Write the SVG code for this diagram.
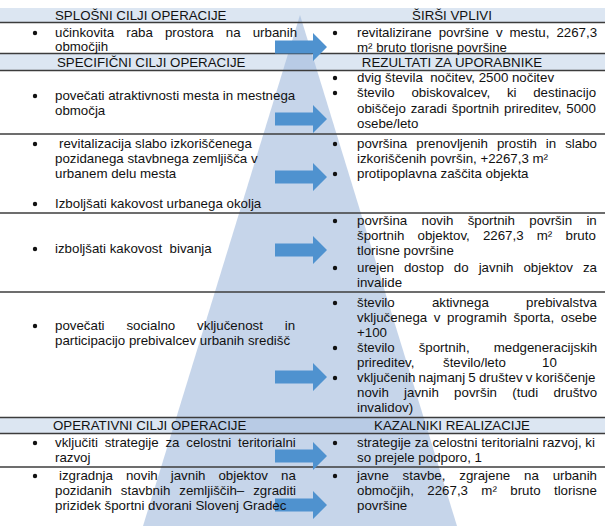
<svg xmlns="http://www.w3.org/2000/svg" width="605" height="526" viewBox="0 0 605 526">
<defs>
<style>
text{font-family:"Liberation Sans",Arial,sans-serif;font-size:13.3px;fill:#111;}
.band{fill:#dce6f2;}
.rule{stroke:#3c3c3c;stroke-width:1.5;}
.arrow{fill:#4f92cf;}
.dot{fill:#111;}
</style>
<path id="arr" class="arrow" d="M0,-6.5 H38 V-14 L52,0 L38,14 V6.5 H0 Z"/>
</defs>
<rect width="605" height="526" fill="#fff"/>
<g id="bands">
<rect class="band" x="0" y="8" width="605" height="14"/>
<rect class="band" x="0" y="54" width="605" height="16"/>
<rect class="band" x="0" y="418" width="605" height="15"/>
</g>
<g id="pyramid">
<polygon points="300,15 143,526 457,526" fill="#a0b9dc" fill-opacity="0.6"/>
</g>
<g id="rules">
<line class="rule" x1="0" y1="22.5" x2="605" y2="22.5"/>
<line class="rule" x1="0" y1="53.5" x2="605" y2="53.5"/>
<line class="rule" x1="0" y1="70.5" x2="605" y2="70.5"/>
<line class="rule" x1="0" y1="134" x2="605" y2="134"/>
<line class="rule" x1="0" y1="213" x2="605" y2="213"/>
<line class="rule" x1="0" y1="292" x2="605" y2="292"/>
<line class="rule" x1="0" y1="417.5" x2="605" y2="417.5"/>
<line class="rule" x1="0" y1="433.5" x2="605" y2="433.5"/>
<line class="rule" x1="0" y1="467" x2="605" y2="467"/>
</g>
<g id="connectors">
<use href="#arr" x="275" y="47"/>
<use href="#arr" x="275" y="119"/>
<use href="#arr" x="275" y="177"/>
<use href="#arr" x="275" y="250"/>
<use href="#arr" x="275" y="377"/>
<use href="#arr" x="275" y="456"/>
<use href="#arr" x="275" y="505"/>
</g>
<g id="headers">
<text x="55" y="20">SPLOŠNI CILJI OPERACIJE</text>
<text x="452" y="20" text-anchor="middle">ŠIRŠI VPLIVI</text>
<text x="57" y="67">SPECIFIČNI CILJI OPERACIJE</text>
<text x="452" y="67" text-anchor="middle">REZULTATI ZA UPORABNIKE</text>
<text x="53" y="430">OPERATIVNI CILJI OPERACIJE</text>
<text x="452" y="430" text-anchor="middle">KAZALNIKI REALIZACIJE</text>
</g>
<g id="splosni-cilji">
<circle class="dot" cx="35" cy="33" r="2.2"/>
<text x="55" y="37" word-spacing="8.4">učinkovita raba prostora na urbanih</text>
<text x="55" y="51">območjih</text>
</g>
<g id="sirsi-vplivi">
<circle class="dot" cx="335" cy="33" r="2.2"/>
<text x="357" y="37" word-spacing="3.3">revitalizirane površine v mestu, 2267,3</text>
<text x="357" y="52">m² bruto tlorisne površine</text>
</g>
<g id="specificni-1">
<circle class="dot" cx="35" cy="96" r="2.2"/>
<text x="55" y="100">povečati atraktivnosti mesta in mestnega</text>
<text x="55" y="115">območja</text>
</g>
<g id="rezultati-1">
<circle class="dot" cx="335" cy="78" r="2.2"/>
<text x="357" y="82" xml:space="preserve">dvig števila  nočitev, 2500 nočitev</text>
<circle class="dot" cx="335" cy="93" r="2.2"/>
<text x="357" y="97" word-spacing="13">število obiskovalcev, ki destinacijo</text>
<text x="357" y="113" word-spacing="1.2">obiščejo zaradi športnih prireditev, 5000</text>
<text x="357" y="128">osebe/leto</text>
</g>
<g id="specificni-2">
<circle class="dot" cx="35" cy="144" r="2.2"/>
<text x="59" y="148">revitalizacija slabo izkoriščenega</text>
<text x="55" y="163">pozidanega stavbnega zemljišča v</text>
<text x="55" y="178">urbanem delu mesta</text>
<circle class="dot" cx="35" cy="204" r="2.2"/>
<text x="55" y="208">Izboljšati kakovost urbanega okolja</text>
</g>
<g id="rezultati-2">
<circle class="dot" cx="335" cy="144" r="2.2"/>
<text x="357" y="148" word-spacing="5.3">površina prenovljenih prostih in slabo</text>
<text x="357" y="163">izkoriščenih površin, +2267,3 m²</text>
<circle class="dot" cx="335" cy="174" r="2.2"/>
<text x="357" y="178">protipoplavna zaščita objekta</text>
</g>
<g id="specificni-3">
<circle class="dot" cx="35" cy="249" r="2.2"/>
<text x="55" y="253" xml:space="preserve">izboljšati kakovost  bivanja</text>
</g>
<g id="rezultati-3">
<circle class="dot" cx="335" cy="221" r="2.2"/>
<text x="357" y="225" word-spacing="10.6">površina novih športnih površin in</text>
<text x="357" y="240" word-spacing="9.5">športnih objektov, 2267,3 m² bruto</text>
<text x="357" y="255">tlorisne površine</text>
<circle class="dot" cx="335" cy="268" r="2.2"/>
<text x="357" y="272" word-spacing="6.3">urejen dostop do javnih objektov za</text>
<text x="357" y="287">invalide</text>
</g>
<g id="specificni-4">
<circle class="dot" cx="35" cy="326" r="2.2"/>
<text x="55" y="330" word-spacing="18.2">povečati socialno vključenost in</text>
<text x="55" y="345">participacijo prebivalcev urbanih središč</text>
</g>
<g id="rezultati-4">
<circle class="dot" cx="335" cy="303" r="2.2"/>
<text x="357" y="307" word-spacing="33.5">število aktivnega prebivalstva</text>
<text x="357" y="322" word-spacing="2.9">vključenega v programih športa, osebe</text>
<text x="357" y="337">+100</text>
<circle class="dot" cx="335" cy="348" r="2.2"/>
<text x="357" y="352" word-spacing="20.3">število športnih, medgeneracijskih</text>
<text x="357" y="367">prireditev,</text>
<text x="443" y="367">število/leto</text>
<text x="542" y="367">10</text>
<circle class="dot" cx="335" cy="378" r="2.2"/>
<text x="357" y="382" word-spacing="-0.5">vključenih najmanj 5 društev v koriščenje</text>
<text x="357" y="397" word-spacing="11.6">novih javnih površin (tudi društvo</text>
<text x="357" y="412">invalidov)</text>
</g>
<g id="operativni-1">
<circle class="dot" cx="35" cy="443" r="2.2"/>
<text x="55" y="447" word-spacing="3.1">vključiti strategije za celostni teritorialni</text>
<text x="55" y="462">razvoj</text>
</g>
<g id="kazalniki-1">
<circle class="dot" cx="335" cy="443" r="2.2"/>
<text x="357" y="447">strategije za celostni teritorialni razvoj, ki</text>
<text x="357" y="462">so prejele podporo, 1</text>
</g>
<g id="operativni-2">
<circle class="dot" cx="35" cy="476" r="2.2"/>
<text x="59" y="480" word-spacing="9.3">izgradnja novih javnih objektov na</text>
<text x="55" y="495" word-spacing="5.2">pozidanih stavbnih zemljiščih– zgraditi</text>
<text x="55" y="510">prizidek športni dvorani Slovenj Gradec</text>
</g>
<g id="kazalniki-2">
<circle class="dot" cx="335" cy="476" r="2.2"/>
<text x="357" y="480" word-spacing="10.1">javne stavbe, zgrajene na urbanih</text>
<text x="357" y="495" word-spacing="9.7">območjih, 2267,3 m² bruto tlorisne</text>
<text x="357" y="510">površine</text>
</g>
</svg>
